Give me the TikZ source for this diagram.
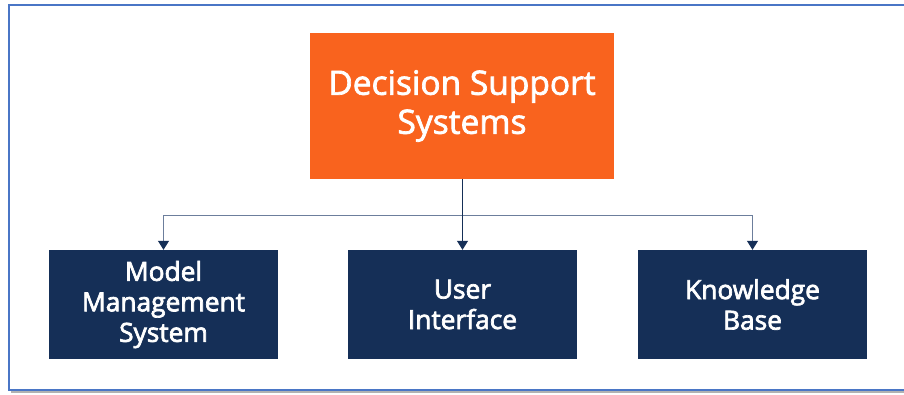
\documentclass[tikz,border=0pt]{standalone}
\usepackage{fontspec}
\setmainfont{Open Sans}
\usetikzlibrary{arrows.meta}
\definecolor{dssorange}{RGB}{249,99,30}
\definecolor{dssnavy}{RGB}{21,47,87}
\definecolor{dssslate}{RGB}{108,126,156}
\definecolor{dssframe}{RGB}{74,118,198}
\newcommand{\thick}[1]{\special{pdf:code 2 Tr 0.7 w}#1\special{pdf:code 0 Tr}}

\begin{document}
\begin{tikzpicture}[x=1pt, y=-1pt,
	topbox/.style={fill=dssorange, text=white, font=\fontsize{33.5}{39}\selectfont, align=center, minimum width=304pt, minimum height=146pt, inner sep=0pt},
	subbox/.style={fill=dssnavy, text=white, font=\fontsize{26.3}{30.5}\selectfont, align=center, minimum width=229pt, minimum height=109pt, inner sep=0pt},
	tip/.style={-{Triangle[width=11pt, length=9pt, color=dssnavy]}}]
			%%%%% START %%%%%
			
			\useasboundingbox (0, 0) rectangle (904, 394);
			\fill[white] (0, 0) rectangle (904, 394);
			
			\draw[line width=2pt, color=black!30] (11, 392) -- (904, 392);
			\draw[line width=1.6pt, color=dssframe] (914, 5) -- (9, 5) -- (9, 390) -- (914, 390);
			
			\node[topbox] (dss) at (462, 106) {\thick{Decision Support}\\\thick{Systems}};
			
			\node[subbox] (mms) at (163.5, 304.5) {\thick{Model}\\\thick{Management}\\\thick{System}};
			\node[subbox] (ui) at (462.5, 304.5) {\thick{User}\\\thick{Interface}};
			\node[subbox] (kb) at (752.5, 304.5) {\thick{Knowledge}\\\thick{Base}};
			
			\coordinate (bus) at (462.5, 215);
			
			\draw[line width=1pt, color=dssslate, tip] (bus) -| (mms.north);
			\draw[line width=1pt, color=dssslate, tip] (bus) -| (kb.north);
			\draw[line width=1pt, color=dssnavy, tip] (dss.south -| ui.north) -- (ui.north);
			
			%%%%% END %%%%%
\end{tikzpicture}
\end{document}
